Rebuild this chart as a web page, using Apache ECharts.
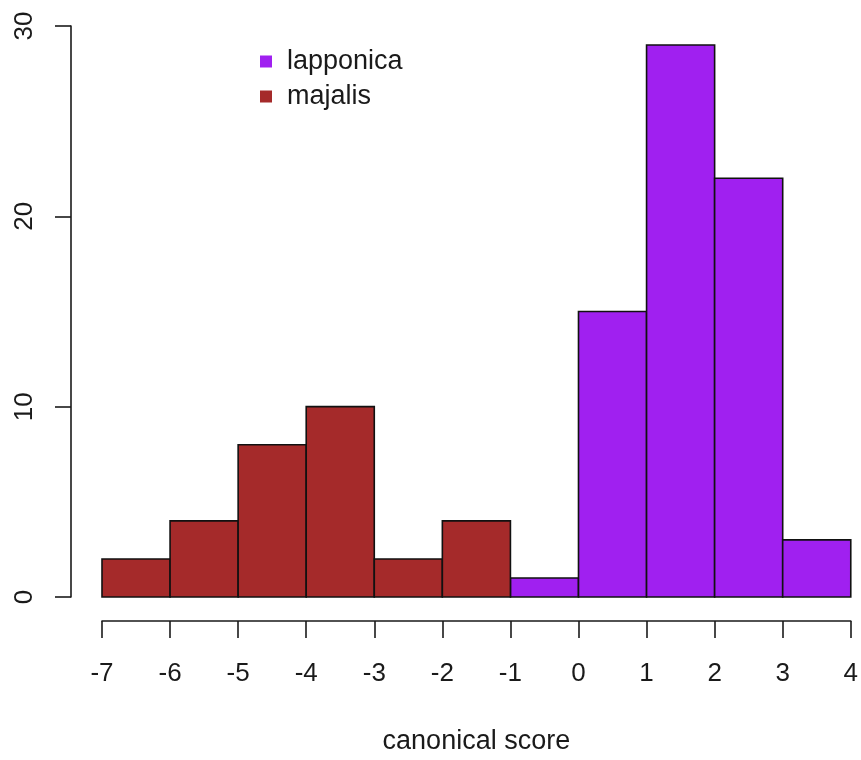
<!DOCTYPE html>
<html>
<head>
<meta charset="utf-8">
<script src="https://cdn.jsdelivr.net/npm/echarts@6/dist/echarts.min.js"></script>
<style>
  html, body { margin: 0; padding: 0; background: #fff; }
  #chart { width: 861px; height: 760px; }
</style>
</head>
<body>
<div id="chart"></div>
<script>
// Histogram of canonical scores, bins of width 1
const majalisStarts = [-7, -6, -5, -4, -3, -2];
const majalisCounts = [2, 4, 8, 10, 2, 4];
const lapponicaStarts = [-1, 0, 1, 2, 3];
const lapponicaCounts = [1, 15, 29, 22, 3];
const binWidth = 1;
const xTicks = [-7, -6, -5, -4, -3, -2, -1, 0, 1, 2, 3, 4];
const yTicks = [0, 10, 20, 30];

const FONT = "'Liberation Sans', Arial, sans-serif";
const INK = '#1a1a1a';

function toBins(starts, counts) {
  return starts.map((s, i) => [s, s + binWidth, counts[i]]);
}

function renderBin(params, api) {
  const p0 = api.coord([api.value(0), api.value(2)]);
  const p1 = api.coord([api.value(1), 0]);
  return {
    type: 'rect',
    shape: { x: p0[0], y: p0[1], width: p1[0] - p0[0], height: p1[1] - p0[1] },
    style: { fill: api.visual('color'), stroke: '#111', lineWidth: 1.6 }
  };
}

const chart = echarts.init(document.getElementById('chart'), null, { renderer: 'canvas' });
chart.setOption({
  animation: false,
  backgroundColor: '#fff',
  grid: { left: 102, right: 9, top: 26, bottom: 154 },
  legend: {
    orient: 'vertical',
    left: 255,
    top: 43,
    itemWidth: 12,
    itemHeight: 12,
    itemGap: 8,
    icon: 'rect',
    data: ['lapponica', 'majalis'],
    textStyle: { fontFamily: FONT, fontSize: 27, color: INK, padding: [0, 0, 0, 10] }
  },
  xAxis: {
    type: 'value',
    min: xTicks[0],
    max: xTicks[xTicks.length - 1],
    interval: 1,
    offset: 24,
    splitLine: { show: false },
    axisLine: { show: true, onZero: false, lineStyle: { color: INK, width: 1.6 } },
    axisTick: { show: true, length: 17, lineStyle: { color: INK, width: 1.6 } },
    axisLabel: { fontFamily: FONT, fontSize: 26, color: INK, margin: 40, showMinLabel: true, showMaxLabel: true },
    name: 'canonical score',
    nameLocation: 'middle',
    nameGap: 107,
    nameTextStyle: { fontFamily: FONT, fontSize: 27, color: INK }
  },
  yAxis: {
    type: 'value',
    min: yTicks[0],
    max: yTicks[yTicks.length - 1],
    interval: 10,
    offset: 31,
    splitLine: { show: false },
    axisLine: { show: true, onZero: false, lineStyle: { color: INK, width: 1.6 } },
    axisTick: { show: true, length: 16, lineStyle: { color: INK, width: 1.6 } },
    axisLabel: { fontFamily: FONT, fontSize: 26, color: INK, rotate: 90, margin: 33, showMinLabel: true, showMaxLabel: true }
  },
  series: [
    {
      name: 'lapponica',
      type: 'custom',
      renderItem: renderBin,
      itemStyle: { color: '#A020F0' },
      encode: { x: [0, 1], y: 2 },
      data: toBins(lapponicaStarts, lapponicaCounts)
    },
    {
      name: 'majalis',
      type: 'custom',
      renderItem: renderBin,
      itemStyle: { color: '#A52A2A' },
      encode: { x: [0, 1], y: 2 },
      data: toBins(majalisStarts, majalisCounts)
    }
  ]
});
</script>
</body>
</html>
